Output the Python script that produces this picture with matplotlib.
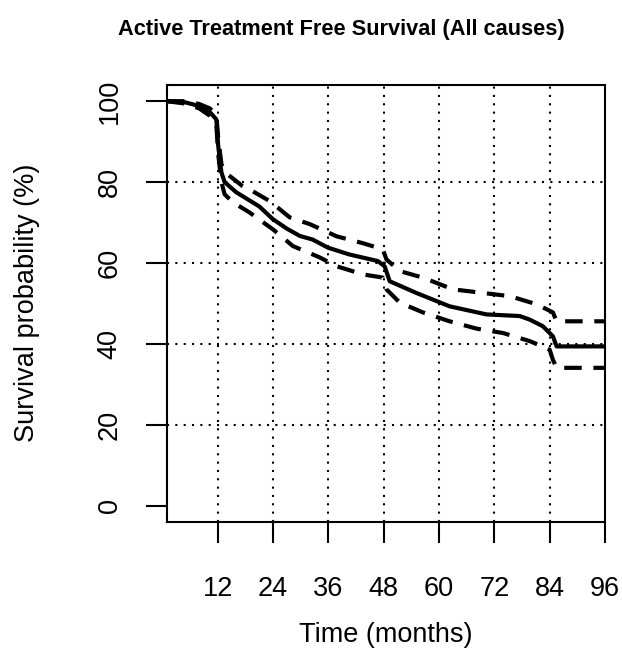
import matplotlib
matplotlib.use("Agg")
import matplotlib.pyplot as plt

plt.rcParams['font.family'] = ['Liberation Sans', 'DejaVu Sans']

## Kaplan-Meier estimate (months, %)
t_surv = [1, 5, 8, 10.3, 11.7, 12.1, 12.8, 13.5, 16, 19, 21, 24, 27, 29.8, 32.6,
          35.9, 40.6, 46.7, 48.2, 49.3, 55.1, 62.3, 70.3, 77.5, 79.7, 82.5,
          84.7, 85.5, 96]
surv = [100, 99.7, 98.8, 97.3, 95.5, 89, 82.4, 80, 77.5, 75.4, 74, 70.8, 68.5,
        66.7, 65.8, 63.8, 62.1, 60.5, 59.2, 55.5, 52.6, 49.3, 47.3, 46.9, 46,
        44.4, 41.9, 39.4, 39.4]

## upper and lower confidence limits
t_upper = [1, 5, 8, 10.3, 11.7, 12.1, 12.8, 13.5, 17.4, 18.9, 23.3, 27.6, 32,
           37.8, 43.5, 47.8, 48.6, 51.5, 56.5, 63, 68.9, 75.4, 81.2, 84.7, 85.5, 96]
upper = [100, 100, 99.3, 98.2, 96.6, 91, 84.5, 82.5, 79, 78.2, 75.3, 71.3, 69.6,
         66.6, 64.9, 63.4, 60.9, 58, 56.4, 53.5, 52.7, 51.8, 49.8, 47.8, 45.6, 45.6]
t_lower = [1, 5, 8, 10.3, 11.7, 12.1, 12.8, 13.5, 15.3, 18.9, 24, 28.3, 34.1,
           37.8, 43.5, 47.8, 48.6, 51.5, 56.5, 62.3, 68.1, 73.9, 79.7, 84, 84.7,
           85.5, 96]
lower = [100, 99.4, 98.2, 96.4, 94.2, 87, 80, 77, 75, 72.5, 68.3, 64.2, 61.4,
         59.2, 57.2, 56.4, 53.5, 50.2, 47.8, 45.6, 43.8, 42.7, 40.7, 38.6, 36.1,
         34.1, 34.1]

xticks = [12, 24, 36, 48, 60, 72, 84, 96]
yticks = [0, 20, 40, 60, 80, 100]
xgrid = [12, 24, 36, 48, 60, 72, 84]
ygrid = [20, 40, 60, 80]

fig = plt.figure(figsize=(6.22, 6.49), dpi=100)
ax = fig.add_axes([167/622, 1 - 522/649, 438/622, 437/649])

for gx in xgrid:
    ax.axvline(gx, color='black', lw=1.5, ls=(0, (1, 3)), zorder=1)
for gy in ygrid:
    ax.axhline(gy, color='black', lw=1.5, ls=(0, (1, 3)), zorder=1)

ax.plot(t_surv, surv, color='black', lw=3, zorder=3)
for tt, vv in [(t_upper, upper), (t_lower, lower)]:
    ln, = ax.plot(tt, vv, color='black', lw=3, zorder=3)
    ln.set_dashes((4.2, 2.8))
    ln.set_dash_capstyle('butt')

ax.set_xlim(1, 96)
ax.set_ylim(-4, 104)
ax.set_xticks(xticks)
ax.set_yticks(yticks)
ax.set_yticklabels([str(v) for v in yticks], rotation=90, va='center')
ax.tick_params(axis='x', length=15, width=1.5, pad=24, labelsize=19.5)
ax.tick_params(axis='y', length=15, width=1.5, pad=17, labelsize=19.5)
for s in ax.spines.values():
    s.set_linewidth(1.5)

fig.text(386/622, 1 - 635/649, 'Time (months)', ha='center', va='center', fontsize=19.5)
fig.text(27.5/622, 1 - 303/649, 'Survival probability (%)', ha='center', va='center',
         rotation=90, fontsize=19.5)
fig.text(341.5/622, 1 - 29/649, 'Active Treatment Free Survival (All causes)',
         ha='center', va='center', fontsize=15.7, fontweight='bold')

fig.savefig('out.png', dpi=100)
